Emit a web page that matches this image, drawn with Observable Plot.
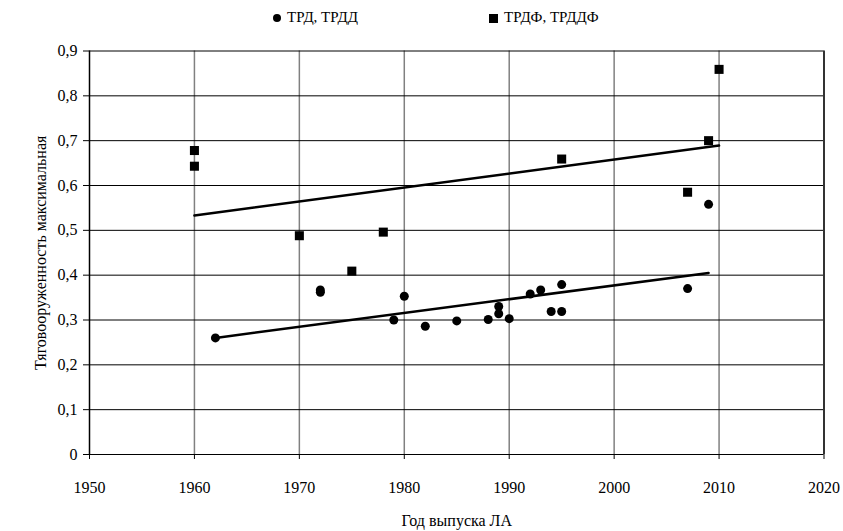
<!DOCTYPE html>
<html>
<head>
<meta charset="utf-8">
<script src="https://cdn.jsdelivr.net/npm/d3@7"></script>
<script src="https://cdn.jsdelivr.net/npm/@observablehq/plot@0.6"></script>
<style>
  html, body { margin: 0; padding: 0; background: #fff; }
  body { width: 843px; height: 531px; overflow: hidden; font-family: "Liberation Serif", "Liberation Sans", sans-serif; }
  #legend { position: relative; height: 36px; font-size: 15px; color: #000; }
  #legend .item { position: absolute; top: 9px; display: flex; align-items: center; white-space: nowrap; }
  #legend svg { margin-right: 5px; }
</style>
</head>
<body>
<div id="legend"></div>
<div id="chart"></div>
<script>
// Series 1: ТРД, ТРДД (circles)
const seriesNames = ["ТРД, ТРДД", "ТРДФ, ТРДДФ"];
const yearsTRD = [1962, 1972, 1972, 1979, 1980, 1982, 1985, 1988, 1989, 1989, 1990, 1992, 1993, 1994, 1995, 1995, 2007, 2009];
const valuesTRD = [0.260, 0.367, 0.362, 0.300, 0.353, 0.286, 0.298, 0.301, 0.330, 0.314, 0.303, 0.358, 0.367, 0.319, 0.319, 0.379, 0.370, 0.558];
// Series 2: ТРДФ, ТРДДФ (squares)
const yearsTRDF = [1960, 1960, 1970, 1975, 1978, 1995, 2007, 2009, 2010];
const valuesTRDF = [0.678, 0.643, 0.488, 0.409, 0.496, 0.659, 0.585, 0.700, 0.859];
// Trend lines (endpoints)
const trendTRDYears = [1962, 2009];
const trendTRDValues = [0.260, 0.405];
const trendTRDFYears = [1960, 2010];
const trendTRDFValues = [0.533, 0.689];
// Axis ticks
const xTicks = [1950, 1960, 1970, 1980, 1990, 2000, 2010, 2020];
const yTicks = [0, 0.1, 0.2, 0.3, 0.4, 0.5, 0.6, 0.7, 0.8, 0.9];
const xLabel = "Год выпуска ЛА";
const yLabel = "Тяговооруженность максимальная";

const trd = yearsTRD.map((x, i) => ({x, y: valuesTRD[i]}));
const trdf = yearsTRDF.map((x, i) => ({x, y: valuesTRDF[i]}));
const tr1 = trendTRDYears.map((x, i) => ({x, y: trendTRDValues[i]}));
const tr2 = trendTRDFYears.map((x, i) => ({x, y: trendTRDFValues[i]}));

// legend
const legend = document.getElementById("legend");
legend.innerHTML = `
  <div class="item" style="left:272px"><svg width="10" height="10"><circle cx="5" cy="5" r="4" fill="#000"/></svg><span>${seriesNames[0]}</span></div>
  <div class="item" style="left:488px"><svg width="11" height="10"><rect x="1" y="1" width="9" height="9" fill="#000"/></svg><span>${seriesNames[1]}</span></div>`;

const fmt = d => d === 0 ? "0" : d.toFixed(1).replace(".", ",");
const font = "'Liberation Serif', 'Liberation Sans', sans-serif";

const chart = Plot.plot({
  width: 843,
  height: 495,
  marginTop: 14.5,
  marginBottom: 77,
  marginLeft: 89,
  marginRight: 19.5,
  style: {fontFamily: font, fontSize: "16px", color: "#000", background: "#fff"},
  x: {domain: [1950, 2020]},
  y: {domain: [0, 0.9]},
  marks: [
    Plot.ruleX(xTicks.filter(d => d > 1950 && d < 2020), {x: d => d, stroke: "#808080", strokeWidth: 1.5}),
    Plot.ruleY(yTicks, {y: d => d, stroke: "#000", strokeWidth: 1}),
    Plot.ruleX([2020], {stroke: "#333", strokeWidth: 2}),
    Plot.ruleX([1950], {stroke: "#000", strokeWidth: 1.5}),
    Plot.axisY({ticks: yTicks, tickFormat: fmt, tickSize: 6, tickPadding: 6, label: null, fontSize: 16, fontFamily: font}),
    Plot.axisX({ticks: xTicks, tickFormat: d => String(d), tickSize: 5, tickPadding: 22, label: null, fontSize: 16, fontFamily: font}),
    Plot.text([xLabel], {frameAnchor: "bottom", dy: 66, fontSize: 16, lineAnchor: "middle", fontFamily: font}),
    Plot.text([yLabel], {frameAnchor: "left", dx: -49, rotate: -90, fontSize: 16, textAnchor: "middle", lineAnchor: "middle", fontFamily: font}),
    Plot.line(tr1, {x: "x", y: "y", stroke: "#000", strokeWidth: 2.5}),
    Plot.line(tr2, {x: "x", y: "y", stroke: "#000", strokeWidth: 2.5}),
    Plot.dot(trd, {x: "x", y: "y", r: 4.5, fill: "#000", stroke: "none"}),
    Plot.dot(trdf, {x: "x", y: "y", r: 5.1, symbol: "square", fill: "#000", stroke: "none"})
  ]
});
document.getElementById("chart").appendChild(chart);
</script>
</body>
</html>
